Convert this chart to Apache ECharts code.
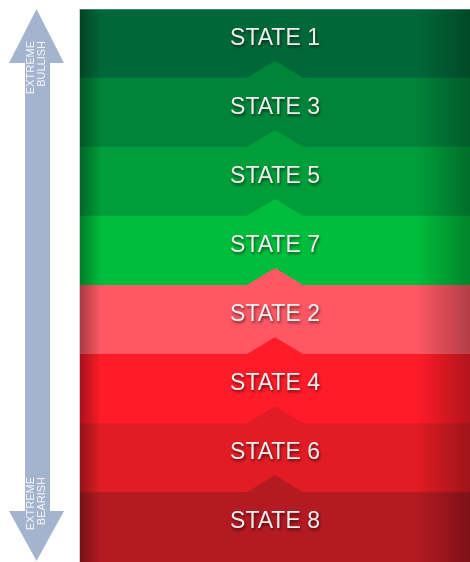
<!DOCTYPE html>
<html><head><meta charset="utf-8">
<script src="https://cdn.jsdelivr.net/npm/echarts@6/dist/echarts.min.js"></script>
<style>html,body{margin:0;padding:0;background:#fff}#c{width:470px;height:562px}</style>
</head><body><div id="c"></div>
<script>
const states = ['STATE 1','STATE 3','STATE 5','STATE 7','STATE 2','STATE 4','STATE 6','STATE 8'];
const bandValues = [1,1,1,1,1,1,1,1];
const bandColors = ['#006838','#00843a','#009e3a','#00be3c','#ff5864','#ff1c28','#e21c24','#b41a22'];
const topArrowLabel = ['EXTREME','BULLISH'];
const bottomArrowLabel = ['EXTREME','BEARISH'];

function shade(hex, f){
  const n = parseInt(hex.slice(1),16);
  const r = Math.round(((n>>16)&255)*f), g = Math.round(((n>>8)&255)*f), b = Math.round((n&255)*f);
  return 'rgb('+r+','+g+','+b+')';
}
function bandGradient(hex){
  return new echarts.graphic.LinearGradient(0,0,1,0,[
    {offset:0,color:shade(hex,0.66)},
    {offset:0.055,color:hex},
    {offset:0.86,color:hex},
    {offset:1,color:shade(hex,0.7)}
  ]);
}

const chart = echarts.init(document.getElementById('c'), null, {renderer:'canvas'});
const arrowFill = '#a4b4cf';
const arrowText = 'rgba(255,255,255,0.88)';
chart.setOption({
  animation:false,
  grid:{left:80,right:0,top:9.3,height:560.8},
  xAxis:{type:'value',min:0,max:1,show:false},
  yAxis:{type:'category',data:states,inverse:true,show:false},
  series:[
    {
      type:'bar', silent:true, barWidth:'102%', barCategoryGap:0, z:2,
      data:bandValues.map((v,i)=>({value:v,itemStyle:{color:bandGradient(bandColors[i])}})),
      label:{
        show:true, position:'inside', offset:[0,-5.5], formatter:'{b}',
        fontFamily:'Liberation Sans', fontSize:23, color:'#efefef',
        textShadowColor:'rgba(0,0,0,0.6)', textShadowBlur:3, textShadowOffsetX:1, textShadowOffsetY:2
      }
    },
    {
      type:'custom', silent:true, z:5,
      data:states.map((s,i)=>[0.5,i]),
      encode:{x:0,y:1},
      renderItem:function(params, api){
        const idx = api.value(1);
        if (idx === 0) return null;
        const c = api.coord([api.value(0), idx]);
        const c0 = api.coord([api.value(0), idx-1]);
        const bh = c[1] - c0[1];
        const top = c[1] - bh/2;
        const hw = 30.5, h = 17.6;
        return {
          type:'polygon',
          shape:{points:[[c[0]-hw, top+0.8],[c[0], top-h],[c[0]+hw, top+0.8]]},
          style:{fill:bandColors[idx]}
        };
      }
    }
  ],
  graphic:[
    {type:'rect', shape:{x:79,y:9,width:1,height:553}, style:{fill:'#d0d0d0'}, silent:true},
    {type:'polygon', silent:true,
     shape:{points:[[36.5,9],[64,63],[50,63],[50,511],[64,511],[36.5,561],[9,511],[25,511],[25,63],[9,63]]},
     style:{fill:arrowFill}},
    {type:'text', silent:true, x:36.5, y:41, rotation:Math.PI/2,
     style:{text:topArrowLabel.join('\n'), fill:arrowText, font:'11px "Liberation Sans"', align:'right', verticalAlign:'middle', lineHeight:11.5}},
    {type:'text', silent:true, x:36.5, y:477, rotation:Math.PI/2,
     style:{text:bottomArrowLabel.join('\n'), fill:arrowText, font:'11px "Liberation Sans"', align:'right', verticalAlign:'middle', lineHeight:11.5}}
  ]
});
</script></body></html>
